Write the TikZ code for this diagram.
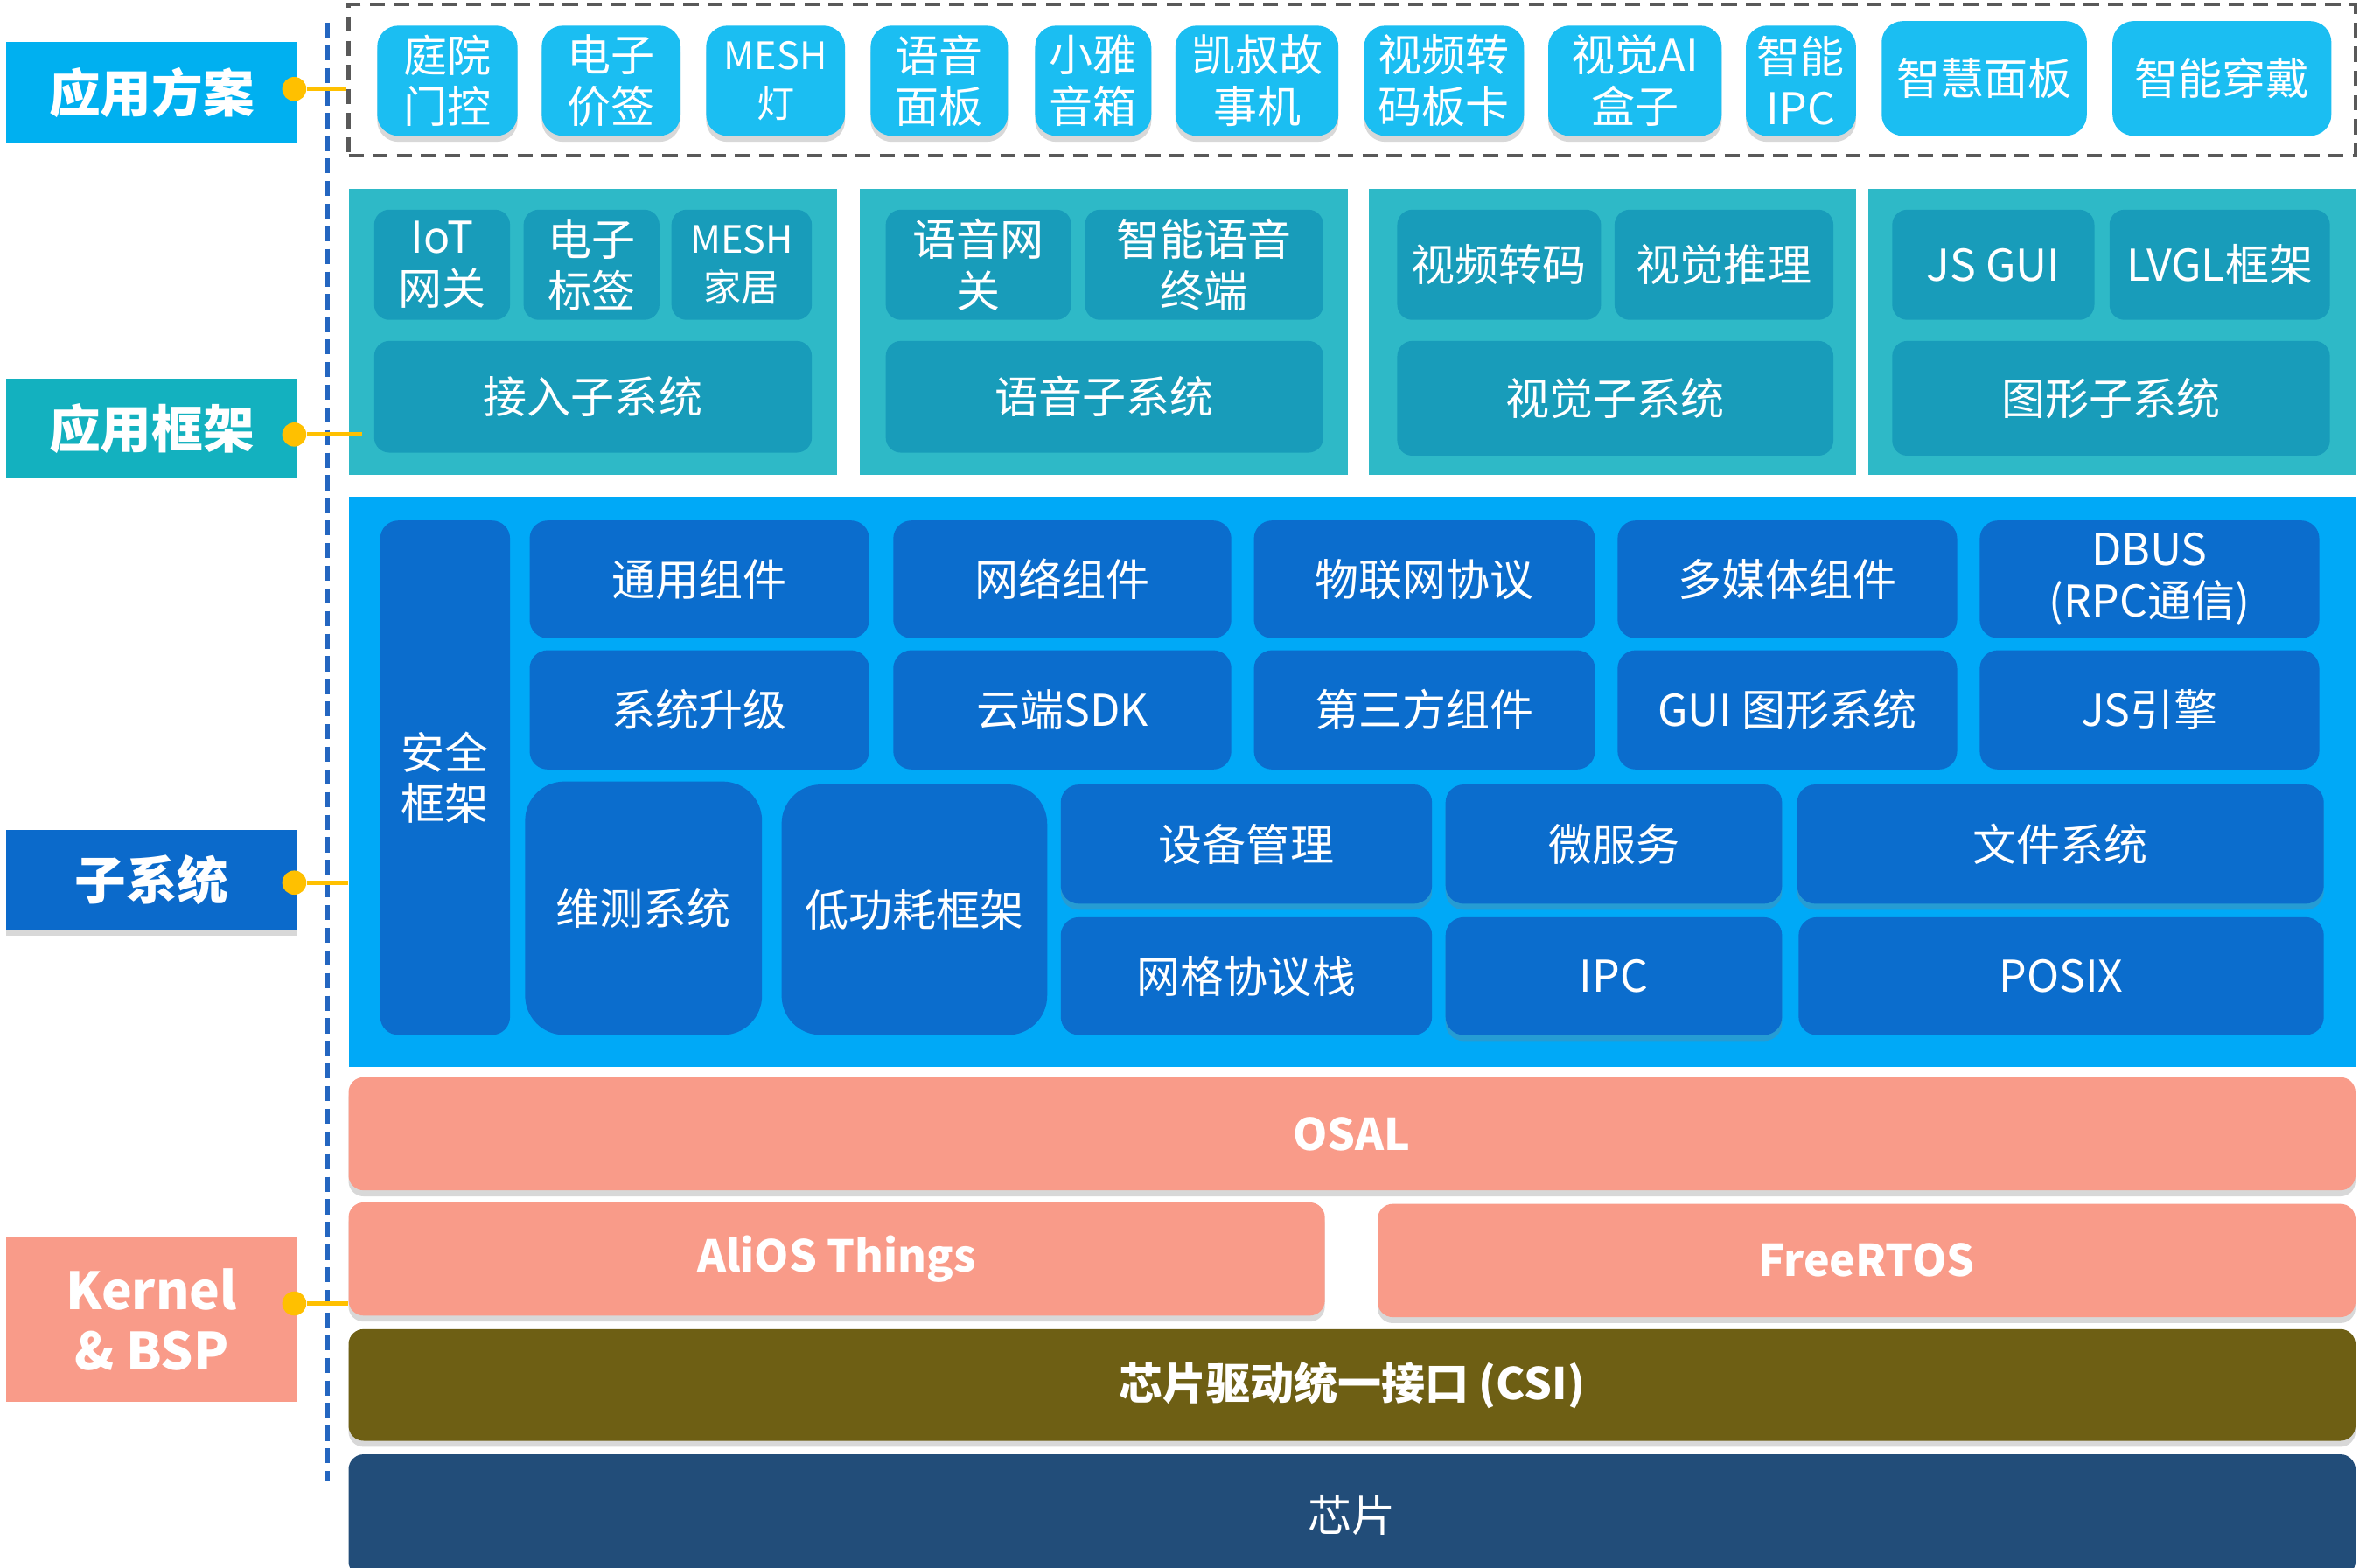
\documentclass[tikz,border=0pt]{standalone}
\usepackage{fontspec}
\setmainfont{Noto Sans CJK SC}
\usetikzlibrary{positioning,shadows}

\definecolor{lblsol}{HTML}{00B0F0}
\definecolor{lblfw}{HTML}{13B1BF}
\definecolor{lblsub}{HTML}{0B6ACB}
\definecolor{appblue}{HTML}{1BBEF2}
\definecolor{fwpanel}{HTML}{2EB9C7}
\definecolor{fwbox}{HTML}{189CBA}
\definecolor{subbg}{HTML}{00A9F7}
\definecolor{subbox}{HTML}{0B6DCD}
\definecolor{salmon}{HTML}{F99B89}
\definecolor{olive}{HTML}{6E5F14}
\definecolor{chipnavy}{HTML}{224D79}
\definecolor{dotyel}{HTML}{FFC000}
\definecolor{axisblue}{HTML}{2466C0}
\definecolor{dashgray}{HTML}{595959}

\tikzset{
  box/.style={inner sep=0pt, text=white, align=center, font=\fontsize{29}{34}\selectfont},
  shad/.style={drop shadow={opacity=0.3, shadow xshift=0pt, shadow yshift=-4pt}},
  lbl/.style={box, font=\bfseries\fontsize{34}{40}\selectfont},
  appbox/.style={box, fill=appblue, rounded corners=14pt, shad},
  appflat/.style={box, fill=appblue, rounded corners=14pt},
  fwin/.style={box, fill=fwbox, rounded corners=10pt},
  subin/.style={box, fill=subbox, rounded corners=12pt},
  kern/.style={box, fill=salmon, rounded corners=10pt, shad, font=\bfseries\fontsize{29}{34}\selectfont},
  ydot/.style={circle, fill=dotyel, inner sep=0pt, minimum size=16pt},
  yline/.style={dotyel, line width=3pt},
  small/.style={font=\fontsize{25}{32}\selectfont}
}

\newcommand{\bx}[7]{\node[#1, minimum width={#4-#2}, minimum height={#5-#3}] (#6) at ({(#2+#4)/2},{(#3+#5)/2}) {#7};}

\begin{document}
\begin{tikzpicture}[x=1pt, y=-1pt]
  \useasboundingbox[fill=white] (0,0) rectangle (1568,1039);

  \draw[axisblue, line width=2.5pt, dash pattern=on 10pt off 5pt] (217,15) -- (217,982);

  \bx{draw=dashgray, line width=2.5pt, dash pattern=on 10pt off 6pt}{231}{3}{1561}{103}{sol}{}
  \bx{fill=fwpanel}{231}{125}{555}{315}{fw1}{}
  \bx{fill=fwpanel}{570}{125}{893}{315}{fw2}{}
  \bx{fill=fwpanel}{907}{125}{1230}{315}{fw3}{}
  \bx{fill=fwpanel}{1238}{125}{1561}{315}{fw4}{}
  \bx{fill=subbg}{231}{329}{1561}{707}{sub}{}

  \bx{lbl, fill=lblsol}{4}{28}{197}{95}{l1}{应用方案}
  \bx{lbl, fill=lblfw}{4}{251}{197}{317}{l2}{应用框架}
  \bx{lbl, fill=lblsub, shad}{4}{550}{197}{616}{l3}{子系统}
  \bx{lbl, fill=salmon}{4}{820}{197}{929}{l4}{Kernel\\\& BSP}

  \bx{appbox}{250}{17}{343}{90}{a1}{庭院\\门控}
  \bx{appbox}{359}{17}{451}{90}{a2}{电子\\价签}
  \bx{appbox, small}{468}{17}{560}{90}{a3}{MESH\\灯}
  \bx{appbox}{577}{17}{668}{90}{a4}{语音\\面板}
  \bx{appbox}{686}{17}{763}{90}{a5}{小雅\\音箱}
  \bx{appbox}{779}{17}{887}{90}{a6}{凯叔故\\事机}
  \bx{appbox}{904}{17}{1010}{90}{a7}{视频转\\码板卡}
  \bx{appbox}{1026}{17}{1141}{90}{a8}{视觉AI\\盒子}
  \bx{appbox}{1157}{17}{1230}{90}{a9}{智能\\IPC}
  \bx{appflat}{1247}{14}{1383}{90}{a10}{智慧面板}
  \bx{appflat}{1400}{14}{1545}{90}{a11}{智能穿戴}

  \bx{fwin}{248}{139}{338}{212}{f11}{IoT\\网关}
  \bx{fwin}{347}{139}{437}{212}{f12}{电子\\标签}
  \bx{fwin, small}{445}{139}{538}{212}{f13}{MESH\\家居}
  \bx{fwin}{248}{226}{538}{300}{f14}{接入子系统}
  \bx{fwin}{587}{139}{710}{212}{f21}{语音网\\关}
  \bx{fwin}{719}{139}{877}{212}{f22}{智能语音\\终端}
  \bx{fwin}{587}{226}{877}{300}{f23}{语音子系统}
  \bx{fwin}{926}{139}{1061}{212}{f31}{视频转码}
  \bx{fwin}{1070}{139}{1215}{212}{f32}{视觉推理}
  \bx{fwin}{926}{226}{1215}{302}{f33}{视觉子系统}
  \bx{fwin}{1254}{139}{1388}{212}{f41}{JS GUI}
  \bx{fwin}{1398}{139}{1544}{212}{f42}{LVGL框架}
  \bx{fwin}{1254}{226}{1544}{302}{f43}{图形子系统}

  \bx{subin}{252}{345}{338}{686}{s0}{安全\\框架}
  \bx{subin}{351}{345}{576}{423}{s11}{通用组件}
  \bx{subin}{592}{345}{816}{423}{s12}{网络组件}
  \bx{subin}{831}{345}{1057}{423}{s13}{物联网协议}
  \bx{subin}{1072}{345}{1297}{423}{s14}{多媒体组件}
  \bx{subin}{1312}{345}{1537}{423}{s15}{DBUS\\(RPC通信)}
  \bx{subin}{351}{431}{576}{510}{s21}{系统升级}
  \bx{subin}{592}{431}{816}{510}{s22}{云端SDK}
  \bx{subin}{831}{431}{1057}{510}{s23}{第三方组件}
  \bx{subin}{1072}{431}{1297}{510}{s24}{GUI 图形系统}
  \bx{subin}{1312}{431}{1537}{510}{s25}{JS引擎}
  \bx{subin, rounded corners=26pt}{348}{518}{505}{686}{s31}{维测系统}
  \bx{subin, rounded corners=26pt}{518}{520}{694}{686}{s32}{低功耗框架}
  \bx{subin, shad}{703}{520}{949}{599}{s33}{设备管理}
  \bx{subin, shad}{958}{520}{1181}{599}{s34}{微服务}
  \bx{subin, shad}{1191}{520}{1540}{599}{s35}{文件系统}
  \bx{subin}{703}{608}{949}{686}{s43}{网格协议栈}
  \bx{subin, shad}{958}{608}{1181}{686}{s44}{IPC}
  \bx{subin}{1192}{608}{1540}{686}{s45}{POSIX}

  \bx{kern}{231}{714}{1561}{789}{osal}{OSAL}
  \bx{kern}{231}{797}{878}{872}{alios}{AliOS Things}
  \bx{kern}{913}{798}{1561}{873}{rtos}{FreeRTOS}
  \bx{kern, fill=olive}{231}{881}{1561}{955}{csi}{芯片驱动统一接口 (CSI)}
  \bx{box, fill=chipnavy, rounded corners=10pt}{231}{964}{1561}{1045}{chip}{芯片}

  \node[ydot] (d1) at (195,59) {};
  \node[ydot] (d2) at (195,288) {};
  \node[ydot] (d3) at (195,585) {};
  \node[ydot] (d4) at (195,864) {};
  \coordinate (e2) at (240,288);

  \draw[yline] (d1) -- (d1 -| sol.west);
  \draw[yline] (d2) -- (e2);
  \draw[yline] (d3) -- (d3 -| sub.west);
  \draw[yline] (d4) -- (d4 -| alios.west);
\end{tikzpicture}
\end{document}
